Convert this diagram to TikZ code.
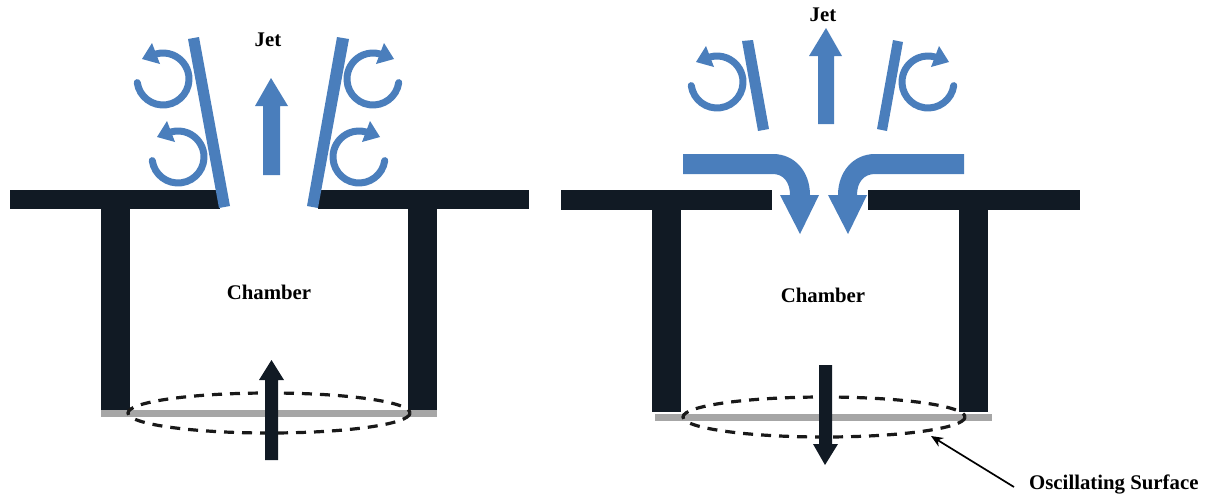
\documentclass[tikz,border=0pt]{standalone}
\usepackage{fontspec}
\setmainfont{Liberation Serif}
\usetikzlibrary{arrows.meta}
\definecolor{flow}{HTML}{4A7EBC}
\definecolor{wall}{HTML}{111A24}
\definecolor{plate}{HTML}{A6A6A6}
\tikzset{
  flowfill/.style={fill=flow,draw=none},
  wallfill/.style={fill=wall,draw=none},
  platefill/.style={fill=plate,draw=none},
  label/.style={font=\fontsize{20.8}{24}\selectfont\bfseries,text=black,inner sep=0pt},
  rim/.style={draw=black!90,line width=3.2pt,dash pattern=on 10pt off 8pt},
  curl/.pic={
    \draw[flow,line width=7pt,line cap=round] (-26*0.990,26*0.139) arc[start angle=172,end angle=-105,radius=26];
    \fill[flow] (-11,-36) -- (-21,-20) -- (-3,-15) -- cycle;
  }
}
\begin{document}
\begin{tikzpicture}[x=1pt,y=-1pt]
\useasboundingbox (0,0) rectangle (1212,496);
% left device
\fill[wallfill] (10,190) rectangle (220,209);
\fill[wallfill] (318,190) rectangle (529,209);
\fill[wallfill] (101,209) rectangle (130,410);
\fill[wallfill] (408,209) rectangle (437,410);
\fill[platefill] (101,410) rectangle (437,417);
\draw[rim] (269,413) ellipse[x radius=141,y radius=20];
\fill[wallfill] (265,460) -- (265,380) -- (259,380) -- (271.5,360) -- (284,380) -- (278,380) -- (278,460) -- cycle;
\fill[flowfill] (188,39) -- (199,37) -- (230,206) -- (219,208) -- cycle;
\fill[flowfill] (337,37) -- (349,39) -- (318,208) -- (307,206) -- cycle;
\fill[flowfill] (263,175) -- (263,106) -- (255,106) -- (271,78) -- (288,106) -- (280,106) -- (280,175) -- cycle;
\pic at (163,79) {curl};
\pic at (178,157) {curl};
\pic[xscale=-1] at (373,79) {curl};
\pic[xscale=-1] at (359,157) {curl};
\node[label] (jetL) at (268,40) {Jet};
\node[label] (chamberL) at (269,292) {Chamber};
% right device
\fill[wallfill] (561,190) rectangle (772,210);
\fill[wallfill] (868,190) rectangle (1080,210);
\fill[wallfill] (652,210) rectangle (681,412);
\fill[wallfill] (959,210) rectangle (988,412);
\fill[platefill] (655,414) rectangle (992,421);
\draw[rim] (824,417) ellipse[x radius=141,y radius=20];
\fill[wallfill] (819,365) -- (832,365) -- (832,444) -- (838,444) -- (825,465) -- (813,444) -- (819,444) -- cycle;
\fill[flowfill] (742,41) -- (753,40) -- (769,129) -- (758,131) -- cycle;
\fill[flowfill] (893,40) -- (903,42) -- (887,131) -- (877,129) -- cycle;
\fill[flowfill] (818,124) -- (818,56) -- (809,56) -- (826,28) -- (842,56) -- (834,56) -- (834,124) -- cycle;
\pic at (717,82) {curl};
\pic[xscale=-1] at (928,82) {curl};
\fill[flowfill] (683,154) -- (773,154) .. controls (795,154) and (810,172) .. (810,195) -- (819,195) -- (800,234) -- (780,195) -- (790,195) .. controls (790,182) and (783,174) .. (773,174) -- (683,174) -- cycle;
\fill[flowfill] (964,154) -- (875,154) .. controls (853,154) and (838,172) .. (838,195) -- (828,195) -- (848,234) -- (867,195) -- (857,195) .. controls (857,182) and (864,174) .. (875,174) -- (964,174) -- cycle;
\node[label] (jetR) at (823,15) {Jet};
\node[label] (chamberR) at (823,295) {Chamber};
\node[label,anchor=west] (surface) at (1029,484) {Oscillating Surface};
\coordinate (tipS) at (931,436);
\coordinate (tailS) at (1014,487);
\draw[line width=1.7pt,-{Stealth[length=12pt,width=10pt]}] (tailS) -- (tipS);
\end{tikzpicture}
\end{document}
